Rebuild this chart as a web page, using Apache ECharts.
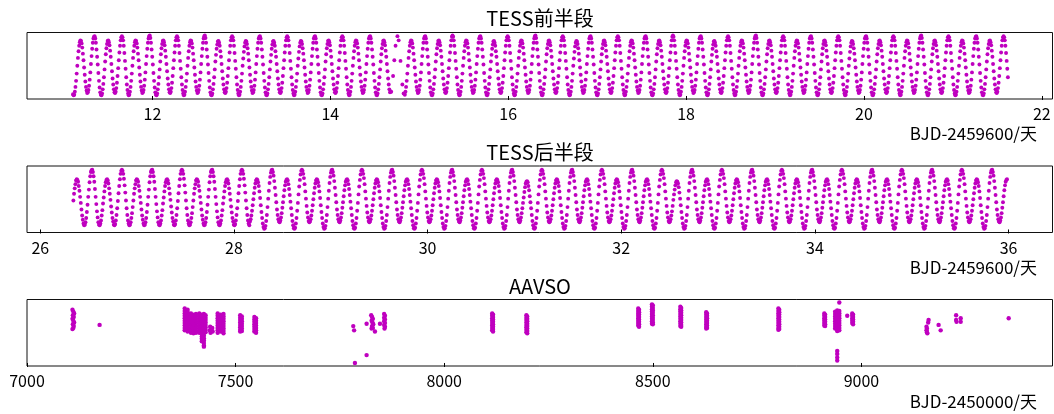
<!DOCTYPE html>
<html><head><meta charset="utf-8">
<script src="https://cdn.jsdelivr.net/npm/echarts@6.0.0/dist/echarts.min.js"></script>
<style>html,body{margin:0;padding:0;background:#fff}#c{width:1054px;height:414px}</style>
</head><body><div id="c"></div>
<script>
// ---- data (relative brightness, 0 = faintest, 100 = brightest) ----
const tess1Start = 11.106;   // BJD-2459600 of first plotted TESS point, first half
const tess2Start = 26.342;   // BJD-2459600 of first plotted TESS point, second half
const tessStep = 0.006962;   // days between consecutive TESS points
const tess1Ticks = [12, 14, 16, 18, 20, 22];
const tess2Ticks = [26, 28, 30, 32, 34, 36];
const aavsoTicks = [7000, 7500, 8000, 8500, 9000];
const titles = ['TESS前半段', 'TESS后半段', 'AAVSO'];
const xNames = ['BJD-2459600/天', 'BJD-2459600/天', 'BJD-2450000/天'];

const tess1Flux = [
3,1,
2,7,15,25,37,50,63,74,83,89,92,91,87,80,70,59,47,35,24,15,9,5,
6,10,17,27,39,53,66,78,88,95,98,99,95,88,77,65,52,38,25,14,6,2,
1,4,11,20,31,44,57,69,79,86,91,92,89,84,75,65,53,41,29,19,11,6,
5,7,13,22,33,46,59,72,83,92,97,99,97,92,83,71,58,45,31,19,10,4,1,
2,7,15,25,37,50,63,74,83,89,92,91,87,80,70,59,47,35,24,15,9,5,
6,10,17,27,39,53,66,78,88,95,99,100,96,88,77,65,52,38,25,14,6,2,
1,4,11,20,31,44,57,69,79,86,91,92,89,84,75,65,53,41,29,19,11,6,
5,7,13,22,33,46,59,72,83,92,97,99,97,92,83,71,58,45,31,19,10,4,1,
2,7,15,25,37,50,63,74,83,89,92,91,87,80,70,59,47,35,24,15,9,5,
6,10,17,27,39,53,66,78,88,95,99,100,96,88,77,65,52,38,25,14,6,2,
1,4,11,20,31,44,57,68,78,85,90,91,88,83,74,65,53,41,29,19,11,6,
5,7,13,22,33,46,59,72,83,92,97,99,97,92,83,71,58,45,31,19,10,4,1,
2,7,15,25,37,50,62,73,82,88,91,90,86,79,70,59,47,35,24,15,9,5,
6,10,17,27,39,53,66,78,88,95,98,99,95,88,77,65,52,38,25,14,6,2,
1,4,11,20,31,44,57,68,78,85,90,91,88,83,74,65,53,41,29,19,11,6,
5,7,13,22,33,46,59,72,83,92,97,99,97,92,83,71,58,45,31,19,10,4,1,
2,7,15,25,37,50,62,73,82,88,91,90,86,79,70,59,47,35,24,15,9,5,
6,10,17,27,39,53,66,78,88,95,98,99,95,88,77,65,52,38,25,14,6,2,
1,4,11,20,31,44,57,69,79,86,91,92,89,84,75,65,53,41,29,19,11,6,
5,7,13,22,33,46,59,72,83,92,97,99,97,92,83,71,58,45,31,19,10,4,1,
2,7,15,25,37,50,63,74,83,89,92,91,87,80,70,59,47,35,24,15,9,5,
6,10,17,27,39,53,66,78,88,95,98,99,95,88,77,65,52,38,25,14,6,2,
1,4,11,20,31,44,57,69,79,86,91,92,89,84,75,65,53,41,29,19,11,6,
null,7,null,null,33,null,59,null,83,null,null,99,null,92,null,null,58,null,null,19,null,4,null,
2,7,15,25,37,50,63,74,83,89,92,91,87,80,70,59,47,35,24,15,9,5,
6,10,17,27,39,53,66,78,88,95,98,99,95,88,77,65,52,38,25,14,6,2,
1,4,11,20,31,44,57,69,79,86,91,92,89,84,75,65,53,41,29,19,11,6,
5,7,13,22,33,46,59,72,83,92,98,100,98,92,83,71,58,45,31,19,10,4,1,
2,7,15,25,37,50,63,74,83,89,92,91,87,80,70,59,47,35,24,15,9,5,
6,10,17,27,39,53,66,78,88,95,98,99,95,88,77,65,52,38,25,14,6,2,
1,4,11,20,31,44,57,68,78,85,90,91,88,83,74,65,53,41,29,19,11,6,
5,7,13,22,33,46,59,72,83,92,97,99,97,92,83,71,58,45,31,19,10,4,1,
2,7,15,25,37,50,63,74,83,89,92,91,87,80,70,59,47,35,24,15,9,5,
6,10,17,27,39,53,66,78,88,95,99,100,96,88,77,65,52,38,25,14,6,2,
1,4,11,20,31,44,57,69,79,86,91,92,89,84,75,65,53,41,29,19,11,6,
5,7,13,22,33,46,59,72,83,92,97,99,97,92,83,71,58,45,31,19,10,4,1,
2,7,15,25,37,50,62,73,82,88,91,90,86,79,70,59,47,35,24,15,9,5,
6,10,17,27,39,53,66,78,88,95,98,99,95,88,77,65,52,38,25,14,6,2,
1,4,11,20,31,44,57,69,79,86,91,92,89,84,75,65,53,41,29,19,11,6,
5,7,13,22,33,46,59,72,83,92,97,99,97,92,83,71,58,45,31,19,10,4,1,
2,7,15,25,37,50,63,74,83,89,92,91,87,80,70,59,47,35,24,15,9,5,
6,10,17,27,39,53,66,78,88,95,98,99,95,88,77,65,52,38,25,14,6,2,
1,4,11,20,31,44,57,69,79,86,91,92,89,84,75,65,53,41,29,19,11,6,
5,7,13,22,33,46,59,72,83,92,98,100,98,92,83,71,58,45,31,19,10,4,1,
2,7,15,25,37,50,63,74,83,89,92,91,87,80,70,59,47,35,24,15,9,5,
6,10,17,27,39,53,66,78,88,95,98,99,95,88,77,65,52,38,25,14,6,2,
1,4,11,20,31,44,57,68,78,85,90,91,88,83,74,65,53,41,29,19,11,6,
5,7,13,22,33,46,59,72,83,92,97,99,97,92,83,71,58,45,31,19,10,4,1,
2,7,15,25,37,50,63,74,83,89,92,91,87,80,70,59,47,35,24,15,9,5,
6,10,17,27,39,53,66,78,88,95,99,100,96,88,77,65,52,38,25,14,6,2,
1,4,11,20,31,44,57,69,79,86,91,92,89,84,75,65,53,41,29,19,11,6,
5,7,13,22,33,46,59,72,83,92,97,99,97,92,83,71,58,45,31,19,10,4,1,
2,7,15,25,37,50,63,74,83,89,92,91,87,80,70,59,47,35,24,15,9,5,
6,10,17,27,39,53,66,78,88,95,98,99,95,88,77,65,52,38,25,14,6,2,
1,4,11,20,31,44,57,69,79,86,91,92,89,84,75,65,53,41,29,19,11,6,
5,7,13,22,33,46,59,72,83,92,97,99,97,92,83,71,58,45,31,19,10,4,1,
2,7,15,25,37,50,62,73,82,88,91,90,86,79,70,59,47,35,24,15,9,5,
6,10,17,27,39,53,66,78,88,95,98,99,95,88,77,65,52,38,25,14,6,2,
1,4,11,20,31,44,57,69,79,86,91,92,89,84,75,65,53,41,29,19,11,6,
5,7,13,22,33,46,59,72,83,92,97,99,97,92,83,71,58,45,31,19,10,4,1,
2,7,15,25,37,50,63,74,83,89,92,91,87,80,70,59,47,35,24,15,9,5,
6,10,17,27,39,53,66,78,88,95,99,100,96,88,77,65,52,38,25,14,6,2,
1,4,11,20,31,44,57,69,79,86,91,92,89,84,75,65,53,41,29,19,11,6,
5,7,13,22,33,46,59,72,83,92,97,99,97,92,83,71,58,45,31,19,10,4,1,
2,7,15,25,37,50,63,74,83,89,92,91,87,80,70,59,47,35,24,15,9,5,
6,10,17,27,39,53,66,78,88,95,98,99,95,88,77,65,52,38,25,14,6,2,
1,4,11,20,31,44,57,69,79,86,91,92,89,84,75,65,53,41,29,19,11,6,
5,7,13,22,33,46,59,72,83,92,97,99,97,92,83,71,58,45,31
];

const tess2Flux = [
48,59,68,75,81,83,82,79,72,64,54,44,33,23,16,10,7,
8,12,19,29,41,54,66,78,88,95,98,99,95,88,79,67,54,42,30,20,12,8,
7,10,15,23,32,43,53,63,72,78,82,83,81,76,68,59,49,38,28,19,13,8,
7,9,15,24,35,47,60,72,83,92,97,99,97,92,84,73,61,48,35,24,15,10,7,
8,12,19,27,37,48,59,68,75,81,83,82,79,72,64,54,44,33,23,16,10,7,
8,12,19,29,41,54,66,78,88,95,98,99,95,88,79,67,54,42,30,20,12,8,
7,10,15,23,32,43,53,63,72,78,82,83,81,76,68,59,49,38,28,19,13,8,
7,9,15,24,35,47,60,72,83,92,97,99,97,92,84,73,61,48,35,24,15,10,7,
8,12,19,27,37,48,59,68,75,81,83,82,79,72,64,54,44,33,23,16,10,7,
8,12,19,29,41,54,66,78,88,95,98,99,95,88,79,67,54,42,30,20,12,8,
7,10,15,23,32,43,53,63,72,78,82,83,81,76,68,59,49,38,28,19,13,8,
7,9,15,24,35,47,60,72,83,92,97,99,97,92,84,73,61,48,35,24,15,10,7,
13,17,23,31,40,50,60,69,76,81,83,82,78,72,63,52,40,29,19,10,4,1,
2,6,14,24,37,51,64,77,87,94,98,99,95,89,80,69,57,45,33,24,17,13,
12,15,20,27,36,45,55,65,73,79,82,83,81,75,67,57,46,35,24,14,7,2,
1,3,10,19,31,44,58,71,82,91,97,99,97,92,85,75,63,51,39,28,20,14,12,
13,17,23,31,40,50,60,69,76,81,83,82,78,72,63,52,40,29,19,10,4,1,
2,6,14,24,37,51,64,77,87,94,98,99,95,89,80,69,57,45,33,24,17,13,
12,15,20,27,36,45,55,65,73,79,82,83,81,75,67,57,46,35,24,14,7,2,
1,3,10,19,31,44,58,71,82,91,97,99,97,92,85,75,63,51,39,28,20,14,12,
13,17,23,31,40,50,60,69,76,81,83,82,78,72,63,52,40,29,19,10,4,1,
2,6,14,24,37,51,64,77,87,94,98,99,95,89,80,69,57,45,33,24,17,13,
12,15,20,27,36,45,55,65,73,79,82,83,81,75,67,57,46,35,24,14,7,2,
1,3,10,19,31,44,58,71,82,91,97,99,97,92,85,75,63,51,39,28,20,14,12,
13,17,23,31,40,50,60,69,76,81,83,82,78,72,63,52,40,29,19,10,4,1,
2,6,14,24,37,51,64,77,87,94,98,99,95,89,80,69,57,45,33,24,17,13,
12,15,20,27,36,45,55,65,73,79,82,83,81,75,67,57,46,35,24,14,7,2,
1,3,10,19,31,44,58,71,82,91,97,99,97,92,85,75,63,51,39,28,20,14,12,
13,17,23,31,40,50,60,69,76,81,83,82,78,72,63,52,40,29,19,10,4,1,
2,6,14,24,37,51,64,77,87,94,98,99,95,89,80,69,57,45,33,24,17,13,
12,15,20,27,35,44,53,62,70,76,79,80,78,72,65,55,45,35,24,14,7,2,
1,3,10,19,31,44,58,71,82,91,97,99,97,92,85,75,63,51,39,28,20,14,12,
13,17,23,31,40,50,60,69,76,81,83,82,78,72,63,52,40,29,19,10,4,1,
2,6,14,24,37,51,64,77,87,94,98,99,95,89,80,69,57,45,33,24,17,13,
12,15,20,27,36,45,55,65,73,79,82,83,81,75,67,57,46,35,24,14,7,2,
1,3,10,19,31,44,58,71,82,91,97,99,97,92,85,75,63,51,39,28,20,14,12,
13,17,23,31,40,50,60,69,76,81,83,82,78,72,63,52,40,29,19,10,4,1,
2,6,14,24,37,51,64,77,87,94,98,99,95,89,80,69,57,45,33,24,17,13,
12,15,20,27,36,45,55,65,73,79,82,83,81,75,67,57,46,35,24,14,7,2,
1,3,10,19,31,44,58,71,82,91,97,99,97,92,85,75,63,51,39,28,20,14,12,
13,17,23,30,39,49,58,66,73,78,80,79,76,70,61,51,40,29,19,10,4,1,
2,6,14,24,37,51,64,77,87,94,98,99,95,89,80,69,57,45,33,24,17,13,
12,15,20,27,36,45,55,65,73,79,82,83,81,75,67,57,46,35,24,14,7,2,
1,3,10,19,31,44,58,71,82,91,97,99,97,92,85,75,63,51,39,28,20,14,12,
13,17,23,31,40,50,60,69,76,81,83,82,78,72,63,52,40,29,19,10,4,1,
2,6,14,24,37,51,64,77,87,94,98,99,95,89,80,69,57,45,33,24,17,13,
12,15,20,27,36,45,55,65,73,79,82,83,81,75,67,57,46,35,24,14,7,2,
1,3,10,19,31,44,58,71,82,91,97,99,97,92,85,75,63,51,39,28,20,14,12,
13,17,23,31,40,50,60,69,76,81,83,82,78,72,63,52,40,29,19,10,4,1,
2,6,14,24,37,51,64,77,87,94,98,99,95,89,80,69,57,45,33,24,17,13,
12,15,20,27,36,45,55,65,73,79,82,83,81,75,67,57,46,35,24,14,7,2,
1,3,10,19,31,44,58,71,82,91,97,99,97,92,85,75,63,51,39,28,20,14,12,
13,17,23,31,40,50,60,69,76,81,83,82,78,72,63,52,40,29,19,10,4,1,
2,6,14,24,37,51,64,77,87,94,98,99,95,89,80,69,57,45,33,24,17,13,
12,15,20,27,36,45,55,65,73,79,82,83,81,75,67,57,46,35,24,14,7,2,
1,3,10,19,31,44,58,71,82,91,97,99,97,92,85,75,63,51,39,28,20,14,12,
13,17,23,31,40,50,60,69,76,81,83,82,78,72,63,52,40,29,19,10,4,1,
2,6,14,24,37,51,64,77,87,94,98,99,95,89,80,69,57,45,33,24,17,13,
12,15,20,27,36,45,55,65,73,79,82,83,81,75,67,57,46,35,24,14,7,2,
1,3,10,19,31,44,58,71,82,91,97,99,97,92,85,75,63,51,39,28,20,14,12,
13,17,23,31,40,50,60,69,76,81,83,82,78,72,63,52,40,29,19,10,4,1,
2,6,14,24,37,51,64,77,87,94,98,99,95,89,80,69,57,45,33,24,17,13,
12,15,20,27,36,45,55,65,73,79,82,83
];

// AAVSO observations: [BJD-2450000, relative brightness]
const aavsoObs = [
[7109,88],[7111,85],[7113,82],[7110,79],[7112,76],[7109,73],[7111,70],[7113,67],[7110,64],[7112,61],[7111,58],[7109,56],
[7174,63],
[7378,90],[7378,86],[7378,82],[7378,78],[7378,74],[7378,70],[7378,66],[7378,62],[7378,58],[7378,54],
[7385,88],[7385,84],[7385,80],[7385,76],[7385,72],[7385,68],[7385,64],[7385,60],[7385,56],[7385,52],
[7393,82],[7393,78],[7393,74],[7393,70],[7393,66],[7393,62],[7393,58],[7393,54],[7393,50],
[7399,80],[7399,76],[7399,72],[7399,68],[7399,64],[7399,60],[7399,56],[7399,52],[7399,49],
[7405,81],[7405,77],[7405,73],[7405,69],[7405,65],[7405,61],[7405,57],[7405,53],[7405,50],
[7413,82],[7413,78],[7413,74],[7413,70],[7413,66],[7413,62],[7413,58],[7413,54],[7413,50],
[7419,80],[7419,76],[7419,72],[7419,68],[7419,64],[7419,60],[7419,56],[7419,52],[7419,48],[7419,44],[7419,40],[7419,36],
[7424,81],[7424,77],[7424,73],[7424,69],[7424,65],[7424,61],[7424,57],[7424,53],[7424,49],[7424,45],[7424,41],[7424,37],[7424,33],[7424,29],[7424,27],
[7428,79],[7428,75],[7428,71],[7428,67],[7428,63],[7428,59],[7428,55],[7428,51],
[7439,60],[7442,56],[7445,52],[7440,50],[7444,58],[7438,54],
[7457,82],[7457,78],[7457,74],[7457,70],[7457,66],[7457,62],[7457,58],[7457,54],[7457,50],
[7464,80],[7464,76],[7464,72],[7464,68],[7464,64],[7464,60],[7464,56],[7464,52],
[7471,81],[7471,77],[7471,73],[7471,69],[7471,65],[7471,61],[7471,57],[7471,53],[7471,49],
[7511,79],[7511,75],[7511,71],[7511,67],[7511,63],[7511,59],[7511,55],[7511,52],
[7515,77],[7515,73],[7515,69],[7515,65],[7515,61],[7515,57],[7515,53],
[7545,76],[7545,72],[7545,68],[7545,64],[7545,60],[7545,56],[7545,52],
[7549,74],[7549,70],[7549,66],[7549,62],[7549,58],[7549,54],[7549,50],
[7782,61],[7784,54],[7786,0],
[7814,65],[7814,13],
[7825,79],[7827,76],[7829,73],[7826,70],[7828,67],[7830,64],[7827,61],[7829,58],[7826,57],
[7834,52],[7846,65],
[7856,81],[7858,78],[7856,75],[7858,72],[7856,69],[7858,66],[7856,63],[7858,60],[7857,57],
[8115,82],[8117,80],[8115,78],[8117,76],[8115,74],[8117,72],[8115,70],[8117,68],[8115,66],[8117,64],[8115,62],[8117,60],[8115,58],[8117,56],[8115,54],[8117,52],
[8197,79],[8199,77],[8197,75],[8199,73],[8197,71],[8199,69],[8197,67],[8199,65],[8197,63],[8199,61],[8197,59],[8199,57],[8197,55],[8199,53],[8197,51],[8199,49],
[8465,90],[8467,88],[8465,86],[8467,84],[8465,82],[8467,80],[8465,78],[8467,76],[8465,74],[8467,72],[8465,70],[8467,68],[8465,66],[8467,64],[8465,62],[8467,60],
[8498,97],[8500,95],[8498,93],[8500,91],[8498,89],[8500,87],[8498,85],[8500,83],[8498,81],[8500,79],[8498,77],[8500,75],[8498,73],[8500,71],[8498,69],[8500,67],[8498,65],[8500,64],
[8566,93],[8568,91],[8566,89],[8568,87],[8566,85],[8568,83],[8566,81],[8568,79],[8566,77],[8568,75],[8566,73],[8568,71],[8566,69],[8568,67],[8566,65],[8568,63],[8566,61],[8568,60],
[8628,84],[8630,82],[8628,80],[8630,78],[8628,76],[8630,74],[8628,72],[8630,70],[8628,68],[8630,66],[8628,64],[8630,62],[8628,60],[8630,58],[8628,57],
[8801,90],[8803,88],[8801,86],[8803,84],[8801,82],[8803,80],[8801,78],[8803,76],[8801,74],[8803,72],[8801,70],[8803,68],[8801,66],[8803,64],[8801,62],[8803,60],[8801,58],[8803,56],[8801,55],
[8911,82],[8913,80],[8911,78],[8913,76],[8911,74],[8913,72],[8911,70],[8913,68],[8911,66],[8913,64],[8911,62],[8913,61],
[8937,85],[8937,81],[8937,77],[8937,73],[8937,69],[8937,65],[8937,61],[8937,57],
[8942,87],[8942,83],[8942,79],[8942,75],[8942,71],[8942,67],[8942,63],[8942,59],[8942,55],[8942,53],
[8947,86],[8947,82],[8947,78],[8947,74],[8947,70],[8947,66],[8947,62],[8947,58],[8947,54],
[8947,100],[8942,20],[8942,15],[8942,9],[8942,4],
[8966,78],
[8978,82],[8980,80],[8978,78],[8980,76],[8978,74],[8980,72],[8978,70],[8980,68],[8978,66],[8980,64],
[9156,60],[9157,57],[9156,54],[9157,51],[9158,49],[9161,71],[9160,67],
[9185,63],[9190,54],
[9227,79],[9227,71],[9228,68],
[9238,74],[9238,68],
[9353,74]
];

// ---- chart ----
const FONT = '"Noto Sans CJK SC", "Noto Sans", sans-serif';
const MAGENTA = '#bf00bf';

function toPoints(start, step, values) {
  const pts = [];
  values.forEach(function (v, i) {
    if (v !== null) pts.push([start + i * step, v]);
  });
  return pts;
}

const gridTops = [32.5, 166, 299.5];
const gridH = 66.5;
const xRanges = [[10.589, 22.12], [25.863, 36.454], [7000, 9458]];
const tickSets = [tess1Ticks, tess2Ticks, aavsoTicks];

const chart = echarts.init(document.getElementById('c'), null, { renderer: 'canvas' });

const option = {
  animation: false,
  backgroundColor: '#fff',
  grid: gridTops.map(function (t) {
    return { left: 27, top: t, width: 1025.5, height: gridH, show: true,
      borderColor: '#111', borderWidth: 1, backgroundColor: 'transparent', containLabel: false };
  }),
  xAxis: xRanges.map(function (r, i) {
    return {
      gridIndex: i, type: 'value', min: r[0], max: r[1],
      axisLine: { show: false }, splitLine: { show: false },
      axisTick: { show: true, inside: false, length: 4, customValues: tickSets[i],
        lineStyle: { color: '#000', width: 1 } },
      axisLabel: { show: true, customValues: tickSets[i], margin: 7, color: '#000',
        fontSize: 16, fontFamily: FONT, formatter: function (v) { return String(v); } }
    };
  }),
  yAxis: [0, 1, 2].map(function (i) {
    return { gridIndex: i, type: 'value', min: -5, max: 105, show: false };
  }),
  series: [
    { type: 'scatter', xAxisIndex: 0, yAxisIndex: 0, data: toPoints(tess1Start, tessStep, tess1Flux), symbolSize: 3.9 },
    { type: 'scatter', xAxisIndex: 1, yAxisIndex: 1, data: toPoints(tess2Start, tessStep, tess2Flux), symbolSize: 3.9 },
    { type: 'scatter', xAxisIndex: 2, yAxisIndex: 2, data: aavsoObs, symbolSize: 4.4 }
  ].map(function (s) {
    return Object.assign(s, { symbol: 'circle', large: false, silent: true,
      itemStyle: { color: MAGENTA, opacity: 1 } });
  }),
  graphic: [
    { type: 'text', x: 540, y: 18, style: { text: titles[0], font: '20px ' + FONT, fill: '#000', align: 'center', verticalAlign: 'middle' } },
    { type: 'text', x: 540, y: 152.5, style: { text: titles[1], font: '20px ' + FONT, fill: '#000', align: 'center', verticalAlign: 'middle' } },
    { type: 'text', x: 540, y: 286, style: { text: titles[2], font: '20px ' + FONT, fill: '#000', align: 'center', verticalAlign: 'middle' } },
    { type: 'text', x: 1037, y: 133.5, style: { text: xNames[0], font: '17px ' + FONT, fill: '#000', align: 'right', verticalAlign: 'middle' } },
    { type: 'text', x: 1037, y: 267.5, style: { text: xNames[1], font: '17px ' + FONT, fill: '#000', align: 'right', verticalAlign: 'middle' } },
    { type: 'text', x: 1037, y: 401.5, style: { text: xNames[2], font: '17px ' + FONT, fill: '#000', align: 'right', verticalAlign: 'middle' } }
  ]
};
chart.setOption(option);
</script>
</body></html>
